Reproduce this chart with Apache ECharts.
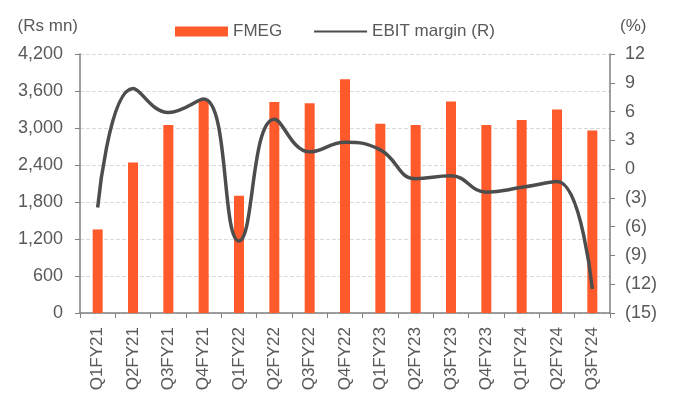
<!DOCTYPE html>
<html>
<head>
<meta charset="utf-8">
<script src="https://cdn.jsdelivr.net/npm/echarts@6/dist/echarts.min.js"></script>
<style>
  html, body { margin: 0; padding: 0; background: #fff; }
  #chart { width: 677px; height: 400px; }
</style>
</head>
<body>
<div id="chart"></div>
<script>
// quarters on the x axis
const quarters = ['Q1FY21', 'Q2FY21', 'Q3FY21', 'Q4FY21', 'Q1FY22', 'Q2FY22', 'Q3FY22', 'Q4FY22',
  'Q1FY23', 'Q2FY23', 'Q3FY23', 'Q4FY23', 'Q1FY24', 'Q2FY24', 'Q3FY24']
// FMEG revenue, Rs mn (left axis)
const fmeg = [1355, 2440, 3050, 3470, 1900, 3420, 3400, 3790, 3070, 3050, 3430, 3050, 3130, 3300, 2960]
// EBIT margin, % (right axis)
const ebitMargin = [-4.0, 8.4, 5.9, 7.3, -7.5, 5.2, 1.8, 2.8, 2.0, -1.0, -0.7, -2.4, -1.9, -1.3, -12.5]

const textColor = '#595959'
const axisColor = '#808080'

const chart = echarts.init(document.getElementById('chart'))
const option = {
  animation: false,
  textStyle: {
    fontFamily: 'Liberation Sans, Arial, sans-serif'
  },
  legend: {
    left: 170,
    top: 18,
    itemWidth: 53,
    itemHeight: 10,
    itemGap: 31,
    textStyle: {
      color: textColor,
      fontSize: 17
    },
    data: [
      { name: 'FMEG', icon: 'rect' },
      // hide the dot, keep only the line in the legend
      { name: 'EBIT margin (R)', itemStyle: { color: 'rgba(0,0,0,0)', borderWidth: 0 } }
    ]
  },
  grid: {
    left: 80,
    right: 67,
    top: 54,
    bottom: 87
  },
  xAxis: {
    type: 'category',
    data: quarters,
    axisLine: { lineStyle: { color: axisColor, width: 1.5 } },
    axisTick: { show: true, length: 5, lineStyle: { color: axisColor } },
    axisLabel: {
      rotate: 90,
      interval: 0,
      color: textColor,
      fontSize: 17,
      margin: 14
    }
  },
  yAxis: [
    {
      type: 'value',
      min: 0,
      max: 4200,
      interval: 600,
      name: '(Rs mn)',
      nameGap: 19,
      nameTextStyle: { color: textColor, fontSize: 17, align: 'right', padding: [0, 2, 0, 0] },
      axisLine: { show: true, lineStyle: { color: axisColor, width: 1.5 } },
      axisTick: { show: true, length: 5, lineStyle: { color: axisColor } },
      axisLabel: {
        color: textColor,
        fontSize: 18,
        margin: 17,
        formatter: v => v.toLocaleString('en-US')
      },
      splitLine: { lineStyle: { color: '#d9d9d9', type: 'dashed' } }
    },
    {
      type: 'value',
      min: -15,
      max: 12,
      interval: 3,
      name: '(%)',
      nameGap: 19,
      nameTextStyle: { color: textColor, fontSize: 17, align: 'left', padding: [0, 0, 0, 10] },
      axisLine: { show: true, lineStyle: { color: axisColor, width: 1.5 } },
      axisTick: { show: true, length: 5, lineStyle: { color: axisColor } },
      axisLabel: {
        color: textColor,
        fontSize: 18,
        margin: 15,
        formatter: v => (v < 0 ? '(' + Math.abs(v) + ')' : String(v))
      },
      splitLine: { show: false }
    }
  ],
  series: [
    {
      name: 'FMEG',
      type: 'bar',
      yAxisIndex: 0,
      barWidth: 10,
      itemStyle: { color: '#ff5a2b' },
      data: fmeg
    },
    {
      name: 'EBIT margin (R)',
      type: 'line',
      yAxisIndex: 1,
      smooth: 0.45,
      symbol: 'none',
      lineStyle: { color: '#4d4d4d', width: 3.5 },
      itemStyle: { color: '#4d4d4d' },
      data: ebitMargin
    }
  ]
}
chart.setOption(option)
</script>
</body>
</html>
